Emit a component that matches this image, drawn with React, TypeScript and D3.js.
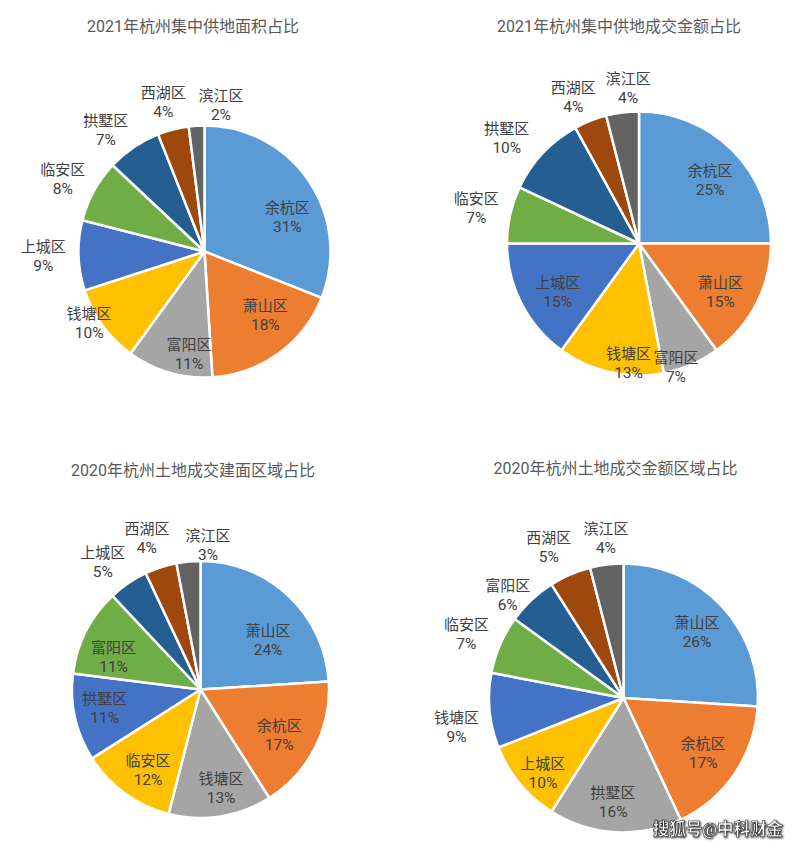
import React from "react";
import * as d3 from "d3";

// ---------- data ----------
const districts1 = ["余杭区", "萧山区", "富阳区", "钱塘区", "上城区", "临安区", "拱墅区", "西湖区", "滨江区"];
const shares1 = [31, 18, 11, 10, 9, 8, 7, 4, 2];

const districts2 = ["余杭区", "萧山区", "富阳区", "钱塘区", "上城区", "临安区", "拱墅区", "西湖区", "滨江区"];
const shares2 = [25, 15, 7, 13, 15, 7, 10, 4, 4];

const districts3 = ["萧山区", "余杭区", "钱塘区", "临安区", "拱墅区", "富阳区", "上城区", "西湖区", "滨江区"];
const shares3 = [24, 17, 13, 12, 11, 11, 5, 4, 3];

const districts4 = ["萧山区", "余杭区", "拱墅区", "上城区", "钱塘区", "临安区", "富阳区", "西湖区", "滨江区"];
const shares4 = [26, 17, 16, 10, 9, 7, 6, 5, 4];

const titles = [
  "2021年杭州集中供地面积占比",
  "2021年杭州集中供地成交金额占比",
  "2020年杭州土地成交建面区域占比",
  "2020年杭州土地成交金额区域占比",
];

const palette = ["#5B9BD5", "#ED7D31", "#A5A5A5", "#FFC000", "#4472C4", "#70AD47", "#255E91", "#9E480E", "#636363"];

// ---------- layout (label placement: [radius factor, angle nudge in degrees]) ----------
const labelPlace1: [number, number][] = [[0.71, 12], [0.7, -7.6], [0.83, -7.7], [1.08, 4], [1.28, 0], [1.26, -2], [1.24, -5], [1.23, -1], [1.17, 10]];
const labelPlace2: [number, number][] = [[0.72, 3.4], [0.72, 4], [0.98, 6.8], [0.91, -7.6], [0.72, -4.2], [1.26, -0.6], [1.28, -4.7], [1.21, -2.7], [1.18, 3.2]];
const labelPlace3: [number, number][] = [[0.65, 10.8], [0.71, 3.4], [0.79, -2.7], [0.75, -3], [0.76, 1.6], [0.72, -7], [1.25, -3.3], [1.25, -1.5], [1.12, 8.4]];
const labelPlace4: [number, number][] = [[0.73, 1.7], [0.72, 0.5], [0.78, 2.1], [0.82, -3.4], [1.26, -4.6], [1.26, -1.4], [1.15, -5.3], [1.25, -3], [1.19, 0.9]];

const charts = [
  { title: titles[0], names: districts1, values: shares1, place: labelPlace1, cx: 204.5, cy: 251.5, r: 126, tx: 193, ty: 26 },
  { title: titles[1], names: districts2, values: shares2, place: labelPlace2, cx: 639, cy: 243.5, r: 132, tx: 619, ty: 26 },
  { title: titles[2], names: districts3, values: shares3, place: labelPlace3, cx: 200.5, cy: 689.5, r: 128.5, tx: 193, ty: 470 },
  { title: titles[3], names: districts4, values: shares4, place: labelPlace4, cx: 623.5, cy: 698, r: 134.5, tx: 615.5, ty: 468 },
];

const FONT = "Roboto, 'Noto Sans CJK SC', 'Noto Sans', sans-serif";

function Pie({ c }: { c: (typeof charts)[number] }) {
  const pie = d3.pie<number>().sort(null).value((d) => d);
  const arcs = pie(c.values);
  const arcGen = d3.arc<d3.PieArcDatum<number>>().innerRadius(0).outerRadius(c.r);
  const total = d3.sum(c.values);
  return (
    <g>
      <text x={c.tx} y={c.ty} textAnchor="middle" dominantBaseline="central" fontSize={16} fill="#595959" fontFamily={FONT}>
        {c.title}
      </text>
      <g transform={`translate(${c.cx},${c.cy})`}>
        {arcs.map((a, i) => (
          <path key={i} d={arcGen(a) || ""} fill={palette[i]} stroke="#ffffff" strokeWidth={2.5} strokeLinejoin="round" />
        ))}
        {arcs.map((a, i) => {
          const [rf, nudge] = c.place[i];
          const ang = (a.startAngle + a.endAngle) / 2 + (nudge * Math.PI) / 180;
          const x = rf * c.r * Math.sin(ang);
          const y = -rf * c.r * Math.cos(ang);
          const pct = Math.round((a.data / total) * 100) + "%";
          return (
            <g key={"l" + i} fontFamily={FONT} fontSize={15} fill="#404040" textAnchor="middle">
              <text x={x} y={y - 9.5} dominantBaseline="central">{c.names[i]}</text>
              <text x={x} y={y + 9.5} dominantBaseline="central" fontSize={15.5}>{pct}</text>
            </g>
          );
        })}
      </g>
    </g>
  );
}

export default function App() {
  return (
    <svg
      width={800}
      height={846}
      viewBox="0 0 800 846"
      style={{ position: "absolute", left: 0, top: 0, background: "#ffffff" }}
    >
      <defs>
        <filter id="wmShadow" x="-10%" y="-30%" width="120%" height="160%">
          <feDropShadow dx="0.8" dy="0.8" stdDeviation="0.8" floodColor="#000000" floodOpacity="0.9" />
        </filter>
      </defs>
      <rect x={0} y={0} width={800} height={846} fill="#ffffff" />
      {charts.map((c, i) => (
        <Pie key={i} c={c} />
      ))}
      <text
        x={783}
        y={829}
        textAnchor="end"
        dominantBaseline="central"
        fontSize={16.5}
        fontWeight="bold"
        fill="#ffffff"
        stroke="#333333"
        strokeWidth={0.6}
        fontFamily={FONT}
        filter="url(#wmShadow)"
      >
        搜狐号@中科财金
      </text>
    </svg>
  );
}
